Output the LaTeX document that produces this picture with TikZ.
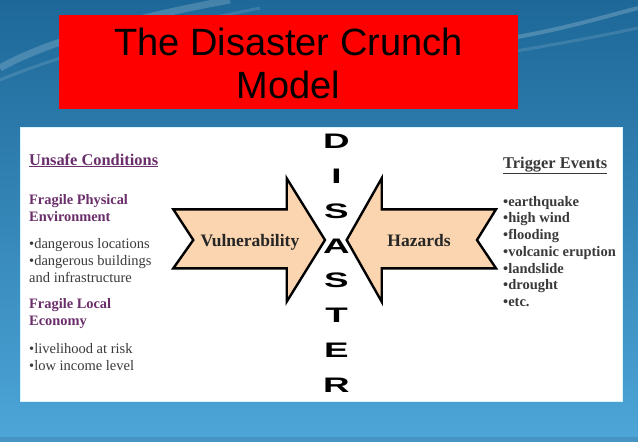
\documentclass[tikz,border=0pt]{standalone}
\usepackage{fontspec}
\setmainfont{Liberation Serif}
\newfontfamily\titlefont{Liberation Sans}
\newfontfamily\letterfont{Liberation Sans}

\definecolor{bgtop}{HTML}{1D6898}
\definecolor{bgbottom}{HTML}{4DA5D8}
\definecolor{titlered}{HTML}{FF0000}
\definecolor{arrowfill}{HTML}{FBD5B0}
\definecolor{headpurple}{HTML}{6A2E6A}
\definecolor{bodygray}{HTML}{3A3A3A}

\tikzset{
  heading/.style={anchor=base west, inner sep=0pt, font=\fontsize{16.4}{18}\selectfont\bfseries},
  subhead/.style={anchor=base west, inner sep=0pt, text=headpurple, font=\fontsize{14.4}{17}\selectfont\bfseries},
  bodytext/.style={anchor=base west, inner sep=0pt, text=bodygray, font=\fontsize{14.5}{17}\selectfont},
  eventtext/.style={bodytext, font=\fontsize{14.5}{17}\selectfont\bfseries},
  crunch/.style={draw=black, line width=2.4pt, fill=arrowfill, line join=miter},
  crunchlabel/.style={anchor=base, inner sep=0pt, text=black!85, font=\fontsize{17.5}{20}\selectfont\bfseries},
  letterbox/.style={inner sep=0pt, xscale=1.75, font=\letterfont\bfseries\fontsize{21}{21}\selectfont},
  titletext/.style={anchor=base, inner sep=0pt, font=\titlefont\fontsize{38}{43}\selectfont}
}

\begin{document}
\begin{tikzpicture}[x=1pt,y=-1pt] % 1 unit = 1 px of the slide

% --------- FOND ----------
\useasboundingbox (0,0) rectangle (638,442);
\shade[top color=bgtop, bottom color=bgbottom] (0,0) rectangle (638,442);
\fill[bgbottom!80!black, opacity=0.5] (0,437) rectangle (638,442);

% vagues claires
\draw[white, opacity=0.18, line width=7pt] (0,68) .. controls (40,45) and (120,20) .. (230,0);
\draw[white, opacity=0.12, line width=3pt] (0,80) .. controls (60,55) and (150,30) .. (260,8);
\draw[white, opacity=0.20, line width=4pt] (500,40) .. controls (560,30) and (600,18) .. (638,8);
\draw[white, opacity=0.12, line width=3pt] (510,52) .. controls (570,42) and (610,34) .. (638,28);

% --------- TITRE ----------
\fill[titlered] (59,15) rectangle (518,109);
\node[titletext] (title1) at (288.5,55) {The Disaster Crunch};
\node[titletext] (title2) at (288.5,98) {Model};

% --------- PANNEAU ----------
\fill[white] (20,127) rectangle (622,401);
\draw[cyan!15, line width=0.8pt] (20,127) rectangle (622,401);

% Lettres DISASTER
\foreach \l [count=\i] in {D,I,S,A,S,T,E,R}{
  \node[letterbox] (let\i) at (336.5,141.5+34.8*\i-34.8) {\l};
}

% Flèches
\draw[crunch] (173.3,209.3) -- (286.7,209.3) -- (286.7,178.3) -- (325,240)
  -- (286.7,301.7) -- (286.7,268.3) -- (173.3,268.3) -- (193.3,240) -- cycle;
\draw[crunch] (496,209.3) -- (381.7,209.3) -- (381.7,178.3) -- (346.7,240)
  -- (381.7,301.7) -- (381.7,268.3) -- (496,268.3) -- (477,240) -- cycle;
\node[crunchlabel] (vuln) at (250,246) {Vulnerability};
\node[crunchlabel] (haz) at (419,246) {Hazards};

% Colonne gauche
\node[heading, text=headpurple] (unsafe) at (29,165) {\underline{Unsafe Conditions}};
\node[subhead] (phys1) at (29,204) {Fragile Physical};
\node[subhead] (phys2) at (29,221) {Environment};
\node[bodytext] (loc1) at (29,248) {•dangerous locations};
\node[bodytext] (loc2) at (29,265) {•dangerous buildings};
\node[bodytext] (loc3) at (29,282) {and infrastructure};
\node[subhead] (eco1) at (29,308) {Fragile Local};
\node[subhead] (eco2) at (29,325) {Economy};
\node[bodytext] (risk1) at (29,353) {•livelihood at risk};
\node[bodytext] (risk2) at (29,370) {•low income level};

% Colonne droite
\node[heading, text=bodygray] (trigger) at (503,168) {\underline{Trigger Events}};
\foreach \ev [count=\i] in {earthquake,high wind,flooding,volcanic eruption,landslide,drought,etc.}{
  \node[eventtext] (ev\i) at (503,206+16.75*\i-16.75) {•\ev};
}

\end{tikzpicture}
\end{document}
